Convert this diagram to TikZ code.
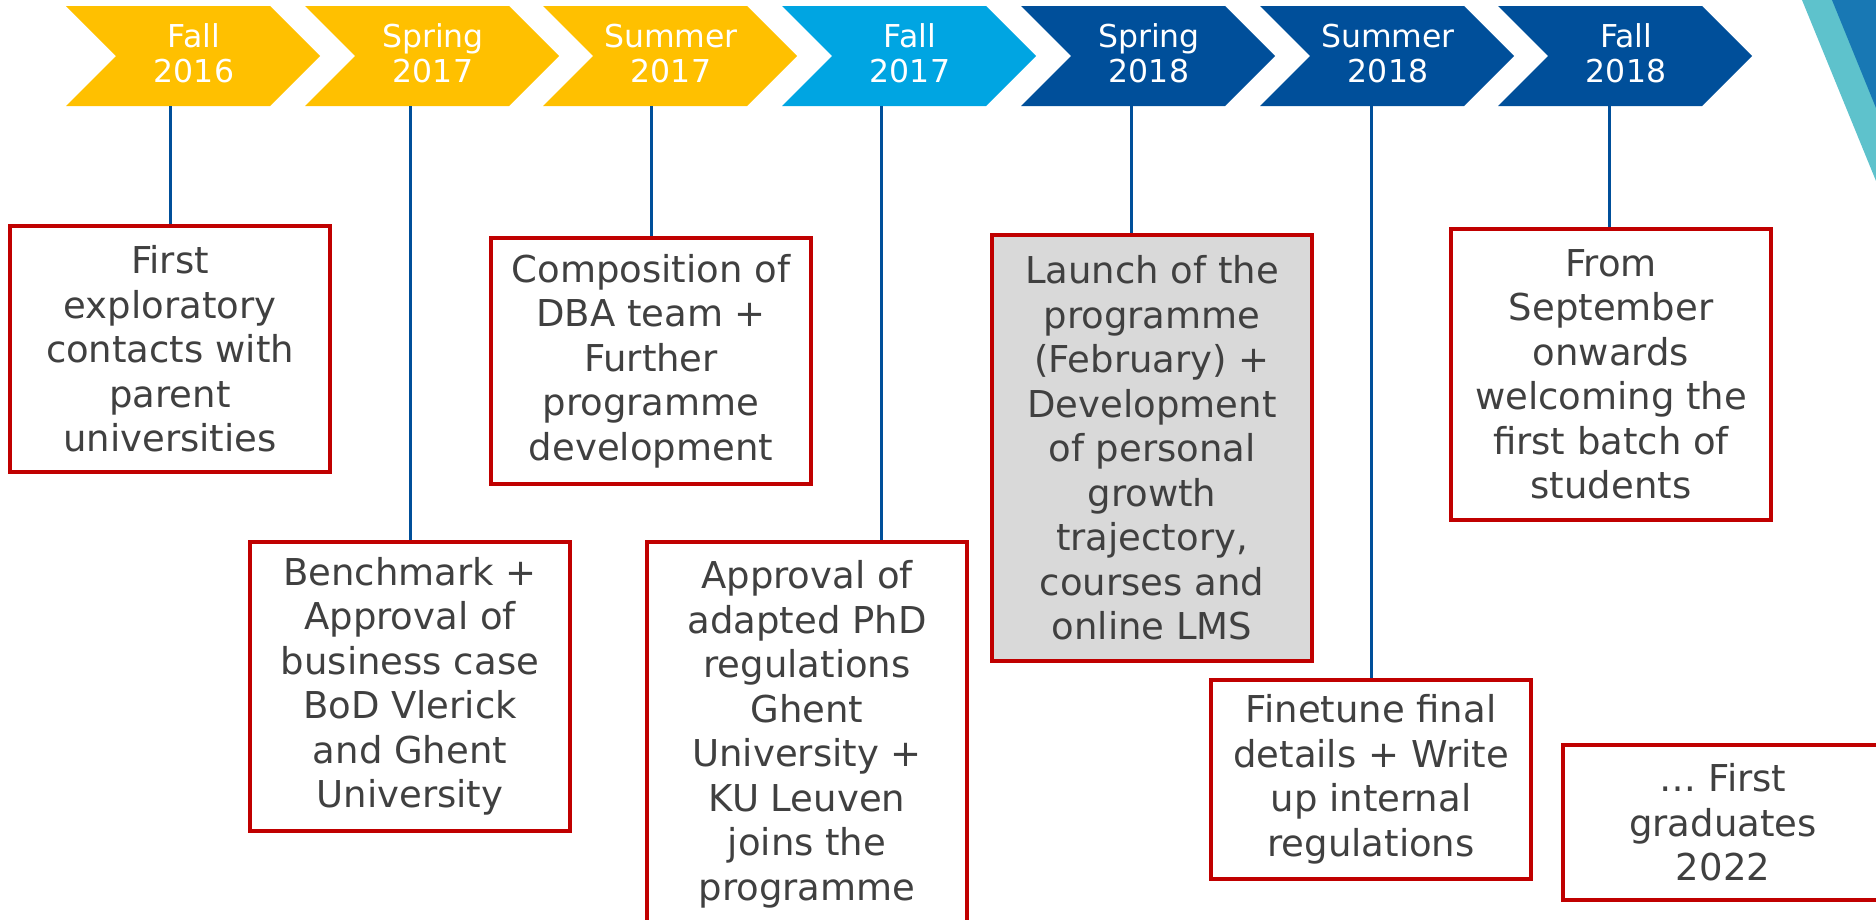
\documentclass[tikz,border=0pt]{standalone}
\usepackage{fontspec}
\setmainfont{DejaVu Sans}
\usepackage{tikz}

\definecolor{seasonyellow}{RGB}{255,192,0}
\definecolor{seasonlight}{RGB}{0,165,226}
\definecolor{seasondark}{RGB}{0,79,154}
\definecolor{boxred}{RGB}{192,0,0}
\definecolor{boxgray}{RGB}{217,217,217}
\definecolor{textgray}{RGB}{64,64,64}
\definecolor{cornerteal}{RGB}{94,194,204}
\definecolor{cornerblue}{RGB}{24,120,180}

\begin{document}
\begin{tikzpicture}[x=1pt,y=-1pt]
	\tikzstyle{every node}+=[inner sep=0pt]
	\tikzstyle{season}=[text=white, align=center, font=\fontsize{31.5}{35}\selectfont]
	\tikzstyle{event}=[draw=boxred, line width=4pt, fill=white, text=textgray, minimum width=320pt, align=center, anchor=north, font=\fontsize{37}{44.5}\selectfont]
	\tikzstyle{timeline}=[draw=seasondark, line width=3pt]
	\useasboundingbox (0,0) rectangle (1876,919);
	\clip (0,0) rectangle (1876,919);
	% corner decoration
	\fill [cornerteal] (1802,0) -- (1876,181) -- (1876,0) -- cycle;
	\fill [cornerblue] (1832,0) -- (1876,108) -- (1876,0) -- cycle;
	% season chevrons
	\fill [seasonyellow] (66,6) -- (270,6) -- (320,56) -- (270,106) -- (66,106) -- (116,56) -- cycle;
	\node [season] (p1) at (194,53.5) {Fall\\2016};
	\fill [seasonyellow] (305,6) -- (509,6) -- (559,56) -- (509,106) -- (305,106) -- (355,56) -- cycle;
	\node [season] (p2) at (433,53.5) {Spring\\2017};
	\fill [seasonyellow] (543,6) -- (747,6) -- (797,56) -- (747,106) -- (543,106) -- (593,56) -- cycle;
	\node [season] (p3) at (671,53.5) {Summer\\2017};
	\fill [seasonlight] (782,6) -- (986,6) -- (1036,56) -- (986,106) -- (782,106) -- (832,56) -- cycle;
	\node [season] (p4) at (910,53.5) {Fall\\2017};
	\fill [seasondark] (1021,6) -- (1225,6) -- (1275,56) -- (1225,106) -- (1021,106) -- (1071,56) -- cycle;
	\node [season] (p5) at (1149,53.5) {Spring\\2018};
	\fill [seasondark] (1260,6) -- (1464,6) -- (1514,56) -- (1464,106) -- (1260,106) -- (1310,56) -- cycle;
	\node [season] (p6) at (1388,53.5) {Summer\\2018};
	\fill [seasondark] (1498,6) -- (1702,6) -- (1752,56) -- (1702,106) -- (1498,106) -- (1548,56) -- cycle;
	\node [season] (p7) at (1626,53.5) {Fall\\2018};
	% line starts below the chevrons
	\coordinate (s1) at (170,106);
	\coordinate (s2) at (410,106);
	\coordinate (s3) at (651,106);
	\coordinate (s4) at (881,106);
	\coordinate (s5) at (1131,106);
	\coordinate (s6) at (1371,106);
	\coordinate (s7) at (1609,106);
	% events
	\node [event, minimum height=246pt] (e1) at (170,224) {First\\exploratory\\contacts with\\parent\\universities};
	\node [event, minimum height=289pt] (e2) at (410,540) {Benchmark +\\Approval of\\business case\\BoD Vlerick\\and Ghent\\University};
	\node [event, minimum height=246pt] (e3) at (651,236) {Composition of\\DBA team +\\Further\\programme\\development};
	\node [event, minimum height=385pt] (e4) at (807,540) {Approval of\\adapted PhD\\regulations\\Ghent\\University +\\KU Leuven\\joins the\\programme};
	\node [event, fill=boxgray, minimum height=426pt] (e5) at (1152,233) {Launch of the\\programme\\(February) +\\Development\\of personal\\growth\\trajectory,\\courses and\\online LMS};
	\node [event, minimum height=199pt] (e6) at (1371,678) {Finetune final\\details + Write\\up internal\\regulations};
	\node [event, minimum height=291pt] (e7) at (1611,227) {From\\September\\onwards\\welcoming the\\first batch of\\students};
	\node [event, minimum height=155pt] (e8) at (1723,743) {… First\\graduates\\2022};
	% connectors
	\draw [timeline] (s1) -- (s1 |- e1.north);
	\draw [timeline] (s2) -- (s2 |- e2.north);
	\draw [timeline] (s3) -- (s3 |- e3.north);
	\draw [timeline] (s4) -- (s4 |- e4.north);
	\draw [timeline] (s5) -- (s5 |- e5.north);
	\draw [timeline] (s6) -- (s6 |- e6.north);
	\draw [timeline] (s7) -- (s7 |- e7.north);
\end{tikzpicture}
\end{document}
